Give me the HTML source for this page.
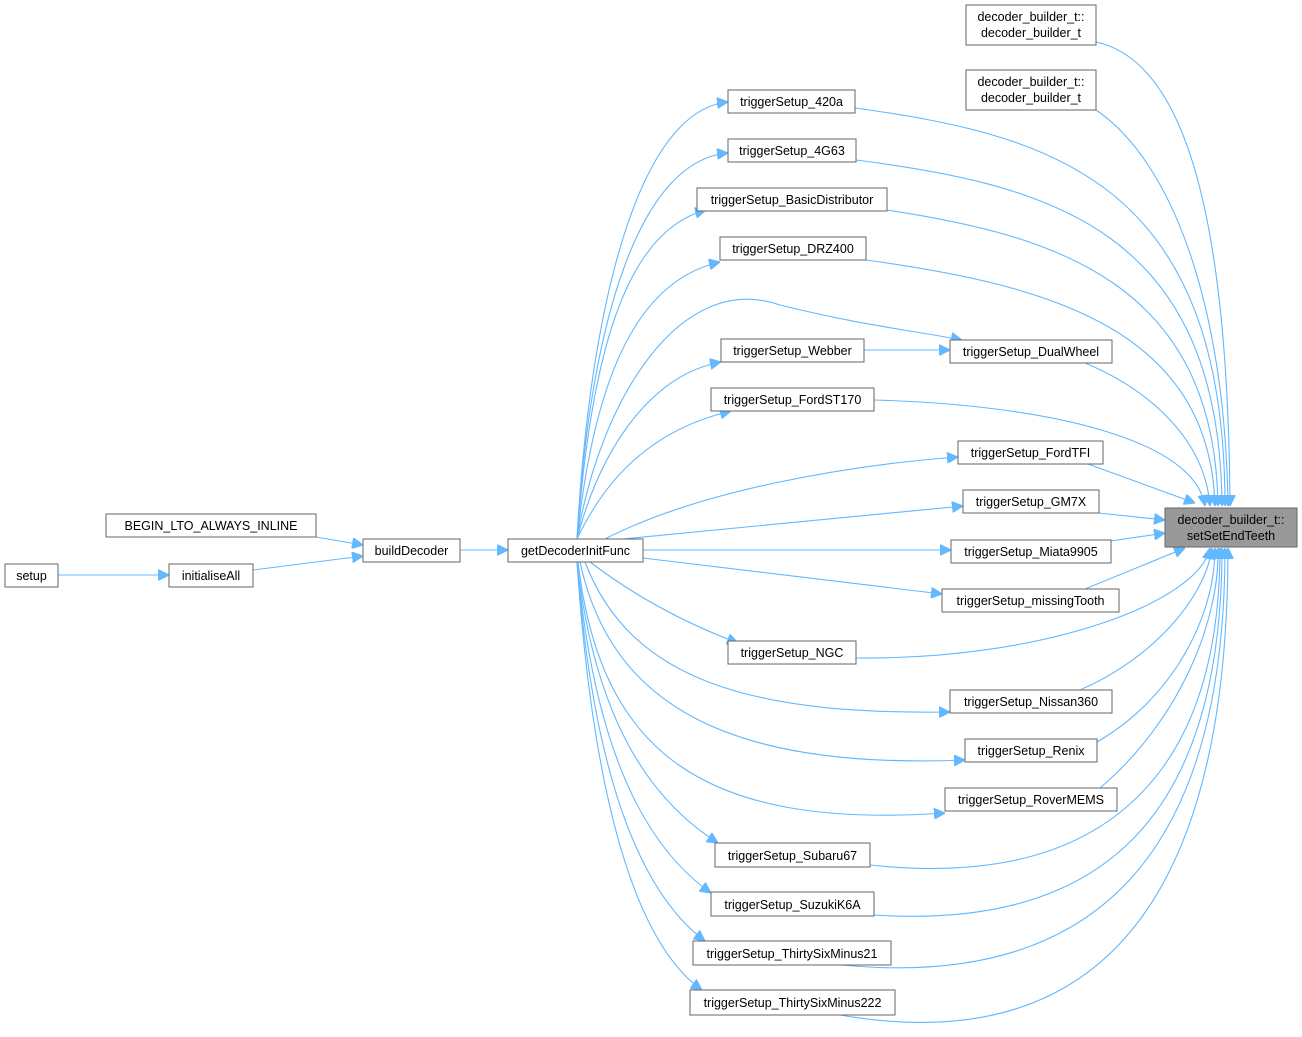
<!DOCTYPE html>
<html><head><meta charset="utf-8"><style>
html,body{margin:0;padding:0;background:#fff}
svg{display:block}
text{font-family:"Liberation Sans",Arial,sans-serif;font-size:12.5px;fill:#000}
.n{fill:#fff;stroke:#666;stroke-width:1}
.e{fill:none;stroke:#63b8ff;stroke-width:1.1}
</style></head><body>
<svg width="1302" height="1037" viewBox="0 0 1302 1037" xmlns="http://www.w3.org/2000/svg">
<defs><marker id="a" viewBox="0 0 10 10" refX="10" refY="5" markerWidth="11" markerHeight="11" markerUnits="userSpaceOnUse" orient="auto"><path d="M0,0 L10,5 L0,10 z" fill="#63b8ff" stroke="#63b8ff"/></marker></defs>
<g marker-end="url(#a)">
<!-- edges to target -->
<path class="e" d="M1096,42 C1180,60 1228,200 1230,506"/>
<path class="e" d="M1096,110 C1170,160 1225,300 1228,506"/>
<path class="e" d="M855,108 C1050,135 1225,180 1225,506"/>
<path class="e" d="M856,160 C1050,185 1220,230 1222,506"/>
<path class="e" d="M887,210 C1050,235 1215,280 1218,506"/>
<path class="e" d="M866,260 C1050,285 1210,330 1215,506"/>
<path class="e" d="M1085,363 C1150,390 1205,440 1210,506"/>
<path class="e" d="M874,400 C1050,405 1195,440 1205,506"/>
<path class="e" d="M1088,464 L1195,503"/>
<path class="e" d="M1099,513 L1165,520"/>
<path class="e" d="M1111,541 L1165,533"/>
<path class="e" d="M1085,589 L1185,548"/>
<path class="e" d="M856,658 C1050,660 1200,600 1210,548"/>
<path class="e" d="M1080,690 C1150,660 1205,600 1212,548"/>
<path class="e" d="M1097,742 C1170,700 1215,620 1215,548"/>
<path class="e" d="M1100,788 C1180,720 1220,620 1218,548"/>
<path class="e" d="M870,865 C1100,890 1220,780 1220,548"/>
<path class="e" d="M874,915 C1100,930 1222,820 1222,548"/>
<path class="e" d="M842,965 C1100,990 1225,850 1225,548"/>
<path class="e" d="M840,1015 C1100,1060 1228,900 1228,548"/>
<!-- from getDecoderInitFunc -->
<path class="e" d="M577,539 C590,300 640,110 728,102"/>
<path class="e" d="M577,539 C590,320 640,160 728,153"/>
<path class="e" d="M577,539 C592,340 630,230 706,210"/>
<path class="e" d="M577,539 C595,370 640,280 720,262"/>
<path class="e" d="M577,539 C600,400 680,270 780,305 C860,325 910,330 962,340"/>
<path class="e" d="M577,539 C600,450 650,375 721,362"/>
<path class="e" d="M577,539 C605,480 650,430 731,411"/>
<path class="e" d="M605,539 C700,490 850,465 958,457"/>
<path class="e" d="M612,540 L963,506"/>
<path class="e" d="M643,550 L951,550"/>
<path class="e" d="M643,558 L942,594"/>
<path class="e" d="M590,562 C640,600 690,625 738,643"/>
<path class="e" d="M585,562 C630,680 750,715 950,712"/>
<path class="e" d="M580,562 C610,700 720,770 965,760"/>
<path class="e" d="M578,562 C600,750 700,830 945,813"/>
<path class="e" d="M577,562 C595,720 650,800 718,843"/>
<path class="e" d="M577,562 C595,760 650,850 711,893"/>
<path class="e" d="M577,562 C595,800 650,900 705,941"/>
<path class="e" d="M577,562 C595,830 645,950 702,990"/>
<path class="e" d="M864,350 L950,350"/>
<path class="e" d="M460,550 L508,550"/>
<path class="e" d="M316,537 L363,545"/>
<path class="e" d="M253,570 L363,556"/>
<path class="e" d="M58,575 L169,575"/>
</g>
<!-- nodes -->
<g>
<rect class="n" x="966" y="5" width="130" height="40"/><text x="1031" y="21" text-anchor="middle">decoder_builder_t::</text><text x="1031" y="37" text-anchor="middle">decoder_builder_t</text>
<rect class="n" x="966" y="70" width="130" height="40"/><text x="1031" y="86" text-anchor="middle">decoder_builder_t::</text><text x="1031" y="102" text-anchor="middle">decoder_builder_t</text>
<rect class="n" x="728" y="90" width="127" height="23"/><text x="791.5" y="106" text-anchor="middle">triggerSetup_420a</text>
<rect class="n" x="728" y="139" width="128" height="23"/><text x="792" y="155" text-anchor="middle">triggerSetup_4G63</text>
<rect class="n" x="697" y="188" width="190" height="23"/><text x="792" y="204" text-anchor="middle">triggerSetup_BasicDistributor</text>
<rect class="n" x="720" y="237" width="146" height="23"/><text x="793" y="253" text-anchor="middle">triggerSetup_DRZ400</text>
<rect class="n" x="950" y="340" width="162" height="23"/><text x="1031" y="356" text-anchor="middle">triggerSetup_DualWheel</text>
<rect class="n" x="721" y="339" width="143" height="23"/><text x="792.5" y="355" text-anchor="middle">triggerSetup_Webber</text>
<rect class="n" x="711" y="388" width="163" height="23"/><text x="792.5" y="404" text-anchor="middle">triggerSetup_FordST170</text>
<rect class="n" x="958" y="441" width="145" height="23"/><text x="1030.5" y="457" text-anchor="middle">triggerSetup_FordTFI</text>
<rect class="n" x="963" y="490" width="136" height="23"/><text x="1031" y="506" text-anchor="middle">triggerSetup_GM7X</text>
<rect class="n" x="951" y="540" width="160" height="23"/><text x="1031" y="556" text-anchor="middle">triggerSetup_Miata9905</text>
<rect class="n" x="942" y="589" width="177" height="23"/><text x="1030.5" y="605" text-anchor="middle">triggerSetup_missingTooth</text>
<rect class="n" x="728" y="641" width="128" height="23"/><text x="792" y="657" text-anchor="middle">triggerSetup_NGC</text>
<rect class="n" x="950" y="690" width="162" height="23"/><text x="1031" y="706" text-anchor="middle">triggerSetup_Nissan360</text>
<rect class="n" x="965" y="739" width="132" height="23"/><text x="1031" y="755" text-anchor="middle">triggerSetup_Renix</text>
<rect class="n" x="945" y="788" width="172" height="23"/><text x="1031" y="804" text-anchor="middle">triggerSetup_RoverMEMS</text>
<rect class="n" x="715" y="843" width="155" height="24"/><text x="792.5" y="860" text-anchor="middle">triggerSetup_Subaru67</text>
<rect class="n" x="711" y="892" width="163" height="24"/><text x="792.5" y="909" text-anchor="middle">triggerSetup_SuzukiK6A</text>
<rect class="n" x="693" y="941" width="198" height="24"/><text x="792" y="958" text-anchor="middle">triggerSetup_ThirtySixMinus21</text>
<rect class="n" x="690" y="990" width="205" height="25"/><text x="792.5" y="1007" text-anchor="middle">triggerSetup_ThirtySixMinus222</text>
<rect x="1165" y="508" width="132" height="39" fill="#999" stroke="#666"/><text x="1231" y="524" text-anchor="middle">decoder_builder_t::</text><text x="1231" y="540" text-anchor="middle">setSetEndTeeth</text>
<rect class="n" x="508" y="539" width="135" height="23"/><text x="575.5" y="555" text-anchor="middle">getDecoderInitFunc</text>
<rect class="n" x="363" y="539" width="97" height="23"/><text x="411.5" y="555" text-anchor="middle">buildDecoder</text>
<rect class="n" x="106" y="514" width="210" height="23"/><text x="211" y="530" text-anchor="middle">BEGIN_LTO_ALWAYS_INLINE</text>
<rect class="n" x="169" y="564" width="84" height="23"/><text x="211" y="580" text-anchor="middle">initialiseAll</text>
<rect class="n" x="5" y="564" width="53" height="23"/><text x="31.5" y="580" text-anchor="middle">setup</text>
</g>
</svg>
</body></html>
